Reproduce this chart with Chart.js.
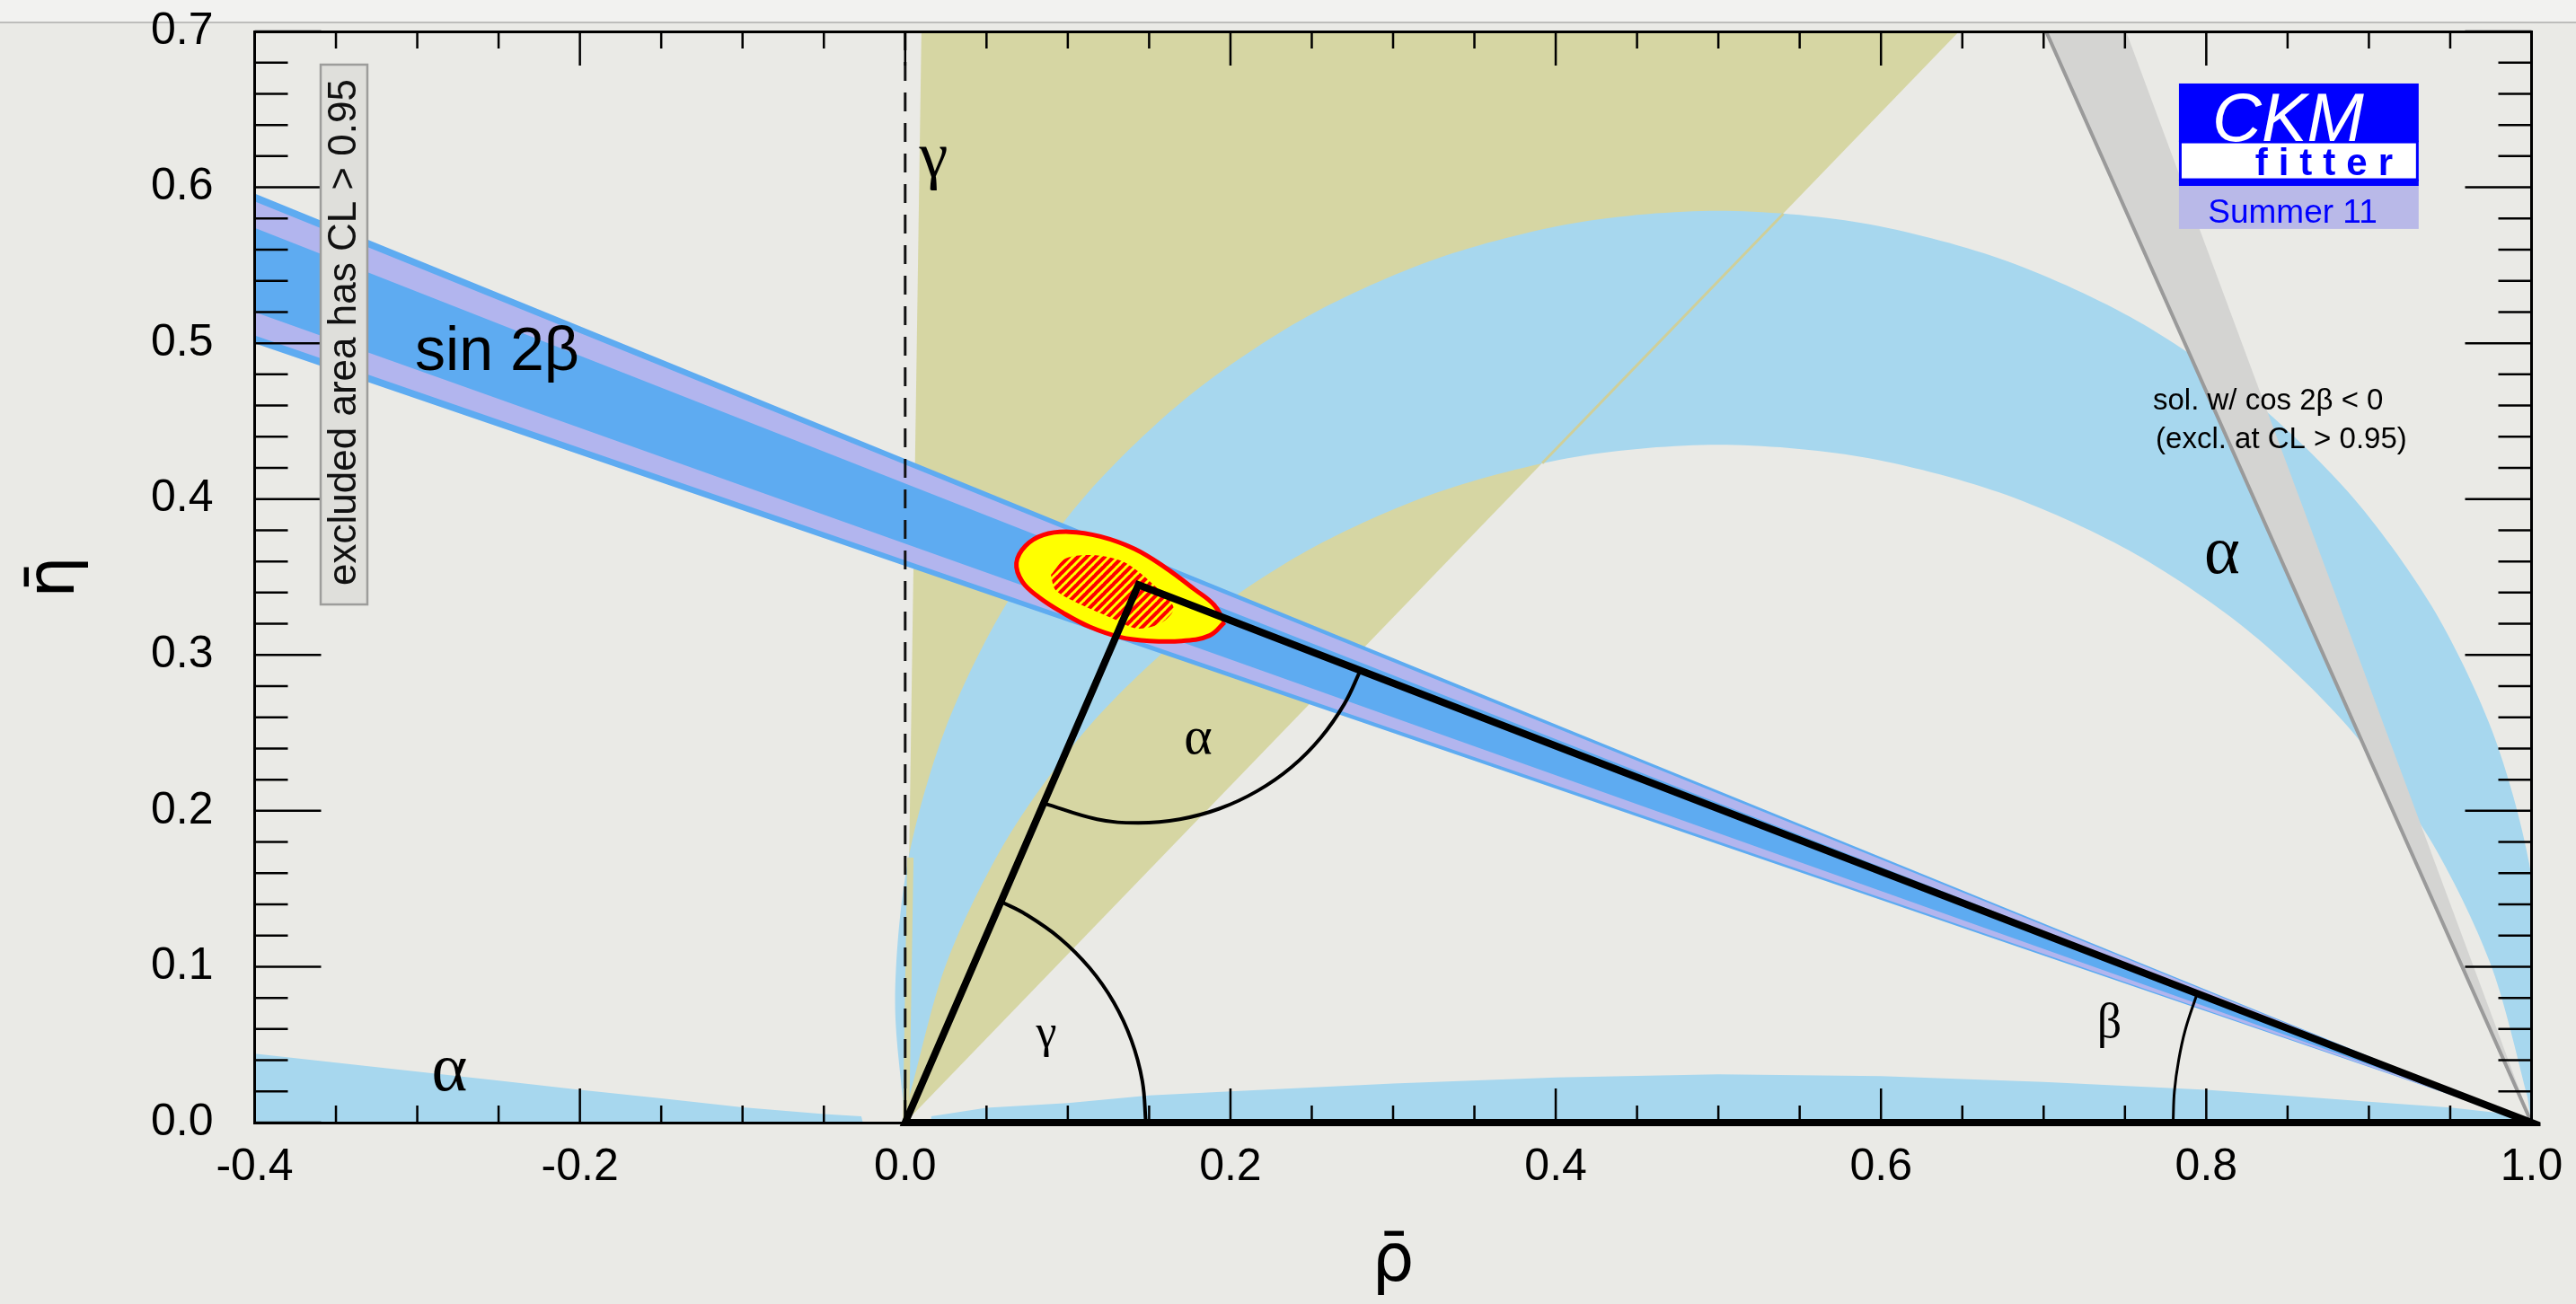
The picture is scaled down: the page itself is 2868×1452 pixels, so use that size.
<!DOCTYPE html>
<html>
<head>
<meta charset="utf-8">
<title>CKMfitter – unitarity triangle (ρ̄, η̄)</title>
<style>
  html, body { margin: 0; padding: 0; background: #eaeae6; overflow: hidden; }
  #topbar { position: absolute; left: 0; top: 0; width: 2868px; height: 24px;
            background: #f2f2f0; border-bottom: 2px solid #bdbdbb; }
  #c { position: absolute; left: 0; top: 0; }
</style>
<script src="https://cdn.jsdelivr.net/npm/chart.js@4.4.0/dist/chart.umd.min.js"></script>
</head>
<body>
<div id="topbar"></div>
<canvas id="c" width="2868" height="1452"></canvas>
<script>
// ---------------------------------------------------------------
// Constraints in the (ρ̄, η̄) plane, Summer 11 global fit.
// Every region is a list of [ρ̄, η̄] vertices.
// ---------------------------------------------------------------

// axis tick labels
const xMajorTicks = [-0.4, -0.2, 0.0, 0.2, 0.4, 0.6, 0.8, 1.0];
const yMajorTicks = [0.0, 0.1, 0.2, 0.3, 0.4, 0.5, 0.6, 0.7];

// γ: wedge from the origin
const gammaWedge = [[0.0, 0.0], [0.0100, 0.7], [0.648, 0.7]];
// sliver of the γ wedge seen next to ρ̄ = 0, and its edge through the α band
const gammaSliver = [[0.0005, 0.0], [0.0032, 0.17]];
const gammaEdge = [[0.3917, 0.4230], [0.5400, 0.5830]];

// α: main band, outer boundary (left to right) then inner boundary (right to left)
const alphaOuter = [
  [0.0000, 0.0000], [-0.0062, 0.0787], [0.0015, 0.1666], [0.0244, 0.2518],
  [0.0617, 0.3318], [0.1123, 0.4040], [0.1747, 0.4664], [0.2469, 0.5170],
  [0.3269, 0.5543], [0.4121, 0.5772], [0.5000, 0.5849], [0.5879, 0.5772],
  [0.6731, 0.5543], [0.7531, 0.5170], [0.8253, 0.4664], [0.8877, 0.4040],
  [0.9383, 0.3318], [0.9756, 0.2518], [0.9985, 0.1666], [1.0062, 0.0787],
  [1.0000, 0.0000]
];
const alphaInner = [
  [0.9972, 0.0176], [0.9745, 0.1026], [0.9372, 0.1823], [0.8868, 0.2544],
  [0.8245, 0.3166], [0.7524, 0.3671], [0.6727, 0.4043], [0.5877, 0.4271],
  [0.5000, 0.4348], [0.4123, 0.4271], [0.3273, 0.4043], [0.2476, 0.3671],
  [0.1755, 0.3166], [0.1132, 0.2544], [0.0628, 0.1823], [0.0255, 0.1026],
  [0.0028, 0.0176]
];
// α: the two low solutions along η̄ ≈ 0
const alphaLowLeft = [
  [-0.4, 0.0], [-0.4, 0.0442], [-0.35, 0.0385], [-0.30, 0.0327], [-0.25, 0.0270],
  [-0.20, 0.0211], [-0.15, 0.0155], [-0.10, 0.0098], [-0.05, 0.0055],
  [-0.027, 0.0040], [-0.026, 0.0]
];
const alphaLowRight = [
  [0.016, 0.0], [0.016, 0.0040], [0.05, 0.0095], [0.10, 0.0125], [0.15, 0.0175],
  [0.20, 0.0200], [0.30, 0.0250], [0.40, 0.0290], [0.50, 0.0310], [0.60, 0.0298],
  [0.70, 0.0260], [0.80, 0.0211], [0.85, 0.0173], [0.90, 0.0134], [0.95, 0.0096],
  [0.99, 0.0050], [1.0, 0.0]
];

// sin 2β: wedges from (1, 0); edge line, outer contour, inner contour
const sin2bEdge = [[1.0, 0.0], [-0.4, 0.596], [-0.4, 0.500]];
const sin2bOuter = [[1.0, 0.0], [-0.4, 0.591], [-0.4, 0.505]];
const sin2bInner = [[1.0, 0.0], [-0.4, 0.574], [-0.4, 0.520]];

// second sin 2β solution (cos 2β < 0)
const cos2bNegative = [[1.0, 0.0], [0.6802, 0.75], [0.7329, 0.75]];

// ρ̄ = 0 reference line
const rhoZero = [[0.0, 0.7], [0.0, 0.0]];

// global fit: outer (yellow) and inner (hatched) contours
const fitOuter = [
  [0.1964, 0.3210], [0.1900, 0.3320], [0.1780, 0.3420], [0.1600, 0.3560],
  [0.1411, 0.3680], [0.1200, 0.3760], [0.1006, 0.3790], [0.0850, 0.3770],
  [0.0740, 0.3700], [0.0684, 0.3590], [0.0720, 0.3470], [0.0822, 0.3370],
  [0.0970, 0.3270], [0.1135, 0.3180], [0.1320, 0.3115], [0.1503, 0.3090],
  [0.1700, 0.3090], [0.1872, 0.3125], [0.1964, 0.3210]
];
const fitInner = [
  [0.0896, 0.3514], [0.0988, 0.3620], [0.1172, 0.3640], [0.1356, 0.3591],
  [0.1540, 0.3438], [0.1651, 0.3303], [0.1577, 0.3207], [0.1430, 0.3169],
  [0.1264, 0.3240], [0.1043, 0.3342], [0.0923, 0.3418], [0.0896, 0.3514]
];

// unitarity triangle (apex at the best fit point)
const triangle = [[0.0, 0.0], [0.1434, 0.345], [1.0, 0.0], [0.0, 0.0], [0.1434, 0.345]];

// angle markers
const arcGamma = [
  [0.1480, 0.0], [0.1458, 0.0268], [0.1391, 0.0528], [0.1282, 0.0772],
  [0.1134, 0.0992], [0.0951, 0.1183], [0.0740, 0.1337], [0.0589, 0.1417]
];
const arcAlpha = [
  [0.0852, 0.2049], [0.1180, 0.1946], [0.1434, 0.1923], [0.1688, 0.1946],
  [0.1935, 0.2015], [0.2166, 0.2128], [0.2375, 0.2280], [0.2555, 0.2469],
  [0.2701, 0.2687], [0.2799, 0.2900]
];
const arcBeta = [[0.7944, 0.0828], [0.7871, 0.0595], [0.7830, 0.0399], [0.7804, 0.0200], [0.7796, 0.0]];

// ---------------------------------------------------------------
// styling
// ---------------------------------------------------------------
const OLIVE = '#d6d6a3';
const OLIVE_EDGE = '#cfcf99';
const SKY = '#a7d7ee';
const BLUE = '#5eabf1';
const LAVENDER = '#b2b5ee';
const GREY = '#d4d4d2';
const SANS = '"Liberation Sans", Arial, sans-serif';
const SERIF = '"Liberation Serif", "Times New Roman", serif';
const TITLE_FONT = '"DejaVu Sans", sans-serif';

Chart.defaults.font.family = SANS;
Chart.defaults.color = '#000';

function redHatch() {
  const t = document.createElement('canvas');
  t.width = t.height = 10;
  const g = t.getContext('2d');
  g.fillStyle = '#ffff00';
  g.fillRect(0, 0, 10, 10);
  g.strokeStyle = '#ff0000';
  g.lineWidth = 4.2;
  g.beginPath();
  for (const o of [-10, 0, 10]) { g.moveTo(o - 1, 11); g.lineTo(o + 11, -1); }
  g.stroke();
  return g.createPattern(t, 'repeat');
}

const toXY = pts => pts.map(([x, y]) => ({x, y}));

function area(pts, color, order, extra = {}) {
  return Object.assign({
    data: toXY(pts), showLine: true, fill: 'shape', backgroundColor: color,
    borderColor: 'rgba(0,0,0,0)', borderWidth: 0, pointRadius: 0, pointHoverRadius: 0,
    tension: 0, order, clip: 0
  }, extra);
}
function curve(pts, color, width, order, extra = {}) {
  return Object.assign({
    data: toXY(pts), showLine: true, fill: false, borderColor: color, borderWidth: width,
    pointRadius: 0, pointHoverRadius: 0, tension: 0, order
  }, extra);
}

const near = (v, list) => list.some(m => Math.abs(v - m) < 1e-6);
const tickText = (v, list) => near(v, list) ? (Math.abs(v) < 1e-9 ? 0 : Number(v)).toFixed(1) : '';

// inward tick marks on all four sides of the frame
const frameTicks = {
  id: 'frameTicks',
  afterDraw(chart) {
    const {ctx, chartArea: a, scales: {x, y}} = chart;
    ctx.save();
    ctx.strokeStyle = '#000';
    ctx.lineWidth = 2.5;
    ctx.beginPath();
    for (const t of x.ticks) {
      const px = x.getPixelForValue(t.value);
      const len = near(t.value, xMajorTicks) ? 38 : 19;
      ctx.moveTo(px, a.bottom); ctx.lineTo(px, a.bottom - len);
      ctx.moveTo(px, a.top); ctx.lineTo(px, a.top + len);
    }
    for (const t of y.ticks) {
      const py = y.getPixelForValue(t.value);
      const len = near(t.value, yMajorTicks) ? 74 : 37;
      ctx.moveTo(a.left, py); ctx.lineTo(a.left + len, py);
      ctx.moveTo(a.right, py); ctx.lineTo(a.right - len, py);
    }
    ctx.stroke();
    ctx.restore();
  }
};

// labels, the CL note and the CKMfitter logo, placed in (ρ̄, η̄) coordinates
const notes = [
  {t: 'sin 2β', x: -0.2509, y: 0.4935, font: '68px ' + SANS},
  {t: 'γ', x: 0.0175, y: 0.6176, font: '72px ' + SERIF},
  {t: 'α', x: 0.8097, y: 0.3641, font: '76px ' + SERIF},
  {t: 'α', x: -0.2802, y: 0.0322, font: '76px ' + SERIF},
  {t: 'α', x: 0.1801, y: 0.2460, font: '60px ' + SERIF},
  {t: 'γ', x: 0.0868, y: 0.0563, font: '52px ' + SERIF},
  {t: 'β', x: 0.7404, y: 0.0628, font: '54px ' + SERIF},
  {t: 'sol. w/ cos 2β < 0', x: 0.7672, y: 0.4626, font: '33px ' + SANS, align: 'left'},
  {t: '(excl. at CL > 0.95)', x: 0.7689, y: 0.4379, font: '33px ' + SANS, align: 'left'}
];

const annotations = {
  id: 'annotations',
  afterDraw(chart) {
    const {ctx, scales: {x, y}} = chart;
    const X = v => x.getPixelForValue(v);
    const Y = v => y.getPixelForValue(v);
    ctx.save();

    // CL note box
    const bx0 = X(-0.3594), bx1 = X(-0.3307), by0 = Y(0.6787), by1 = Y(0.3324);
    ctx.fillStyle = '#dfdfdb';
    ctx.fillRect(bx0, by0, bx1 - bx0, by1 - by0);
    ctx.strokeStyle = '#9d9d9b';
    ctx.lineWidth = 2.5;
    ctx.strokeRect(bx0, by0, bx1 - bx0, by1 - by0);
    ctx.save();
    ctx.translate(X(-0.3445), Y(0.507));
    ctx.rotate(-Math.PI / 2);
    ctx.fillStyle = '#111';
    ctx.font = '44px ' + SANS;
    ctx.textAlign = 'center';
    ctx.textBaseline = 'middle';
    ctx.fillText('excluded area has CL > 0.95', 0, 0);
    ctx.restore();

    // text labels
    ctx.fillStyle = '#000';
    ctx.textBaseline = 'middle';
    for (const n of notes) {
      ctx.font = n.font;
      ctx.textAlign = n.align || 'center';
      ctx.fillText(n.t, X(n.x), Y(n.y));
    }

    // CKMfitter logo
    const L = X(0.7832), R = X(0.9306), W = R - L;
    ctx.fillStyle = '#0000ff';
    ctx.fillRect(L, Y(0.6666), W, Y(0.6291) - Y(0.6666));
    ctx.fillStyle = '#ffffff';
    ctx.fillRect(L, Y(0.6291), W, Y(0.6049) - Y(0.6291));
    ctx.strokeStyle = '#0000ff';
    ctx.lineWidth = 3;
    ctx.strokeRect(L + 1.5, Y(0.6291), W - 3, Y(0.6049) - Y(0.6291));
    ctx.fillStyle = '#0000ff';
    ctx.fillRect(L, Y(0.6049), W, Y(0.6009) - Y(0.6049));
    ctx.fillStyle = '#b9b9e8';
    ctx.fillRect(L, Y(0.6009), W, Y(0.5733) - Y(0.6009));

    ctx.textBaseline = 'alphabetic';
    ctx.fillStyle = '#ffffff';
    ctx.font = 'italic 76px ' + SANS;
    ctx.textAlign = 'center';
    ctx.fillText('CKM', X(0.8503), Y(0.6297));
    ctx.fillStyle = '#0000ff';
    ctx.font = 'bold 42px ' + SANS;
    ctx.textAlign = 'left';
    ctx.letterSpacing = '12px';
    ctx.fillText('fitter', X(0.8300), Y(0.6078));
    ctx.letterSpacing = '0px';
    ctx.font = '37px ' + SANS;
    ctx.textAlign = 'center';
    ctx.fillText('Summer 11', X(0.8531), Y(0.5773));

    ctx.restore();
  }
};

const hidden = {
  ticks: {display: false},
  grid: {display: false, drawTicks: false},
  border: {display: true, color: '#000', width: 3, z: 1}
};

new Chart(document.getElementById('c'), {
  type: 'scatter',
  data: {
    datasets: [
      area(gammaWedge, OLIVE, 20),
      area(alphaOuter.concat(alphaInner), SKY, 19, {tension: 0.3}),
      curve(gammaSliver, OLIVE, 7, 18),
      curve(gammaEdge, OLIVE_EDGE, 3, 17),
      area(alphaLowLeft, SKY, 16),
      area(alphaLowRight, SKY, 16),
      area(sin2bEdge, BLUE, 15),
      area(sin2bOuter, LAVENDER, 14),
      area(sin2bInner, BLUE, 13),
      area(cos2bNegative, GREY, 12, {borderColor: '#9a9a9a', borderWidth: 4}),
      curve(rhoZero, '#111', 3, 11, {borderDash: [21, 13]}),
      area(fitOuter, '#ffff00', 10, {borderColor: '#ff0000', borderWidth: 5, tension: 0.4, clip: 6}),
      area(fitInner, redHatch(), 9, {tension: 0.3}),
      curve(triangle, '#000', 8, 8, {borderJoinStyle: 'miter', clip: 10}),
      curve(arcGamma, '#000', 4, 7, {tension: 0.4}),
      curve(arcAlpha, '#000', 4, 7, {tension: 0.4}),
      curve(arcBeta, '#000', 3, 7, {tension: 0.4})
    ]
  },
  options: {
    responsive: false,
    devicePixelRatio: 1,
    animation: false,
    events: [],
    layout: {padding: 0},
    plugins: {legend: {display: false}, tooltip: {enabled: false}},
    scales: {
      x: {
        type: 'linear', position: 'bottom', min: -0.4, max: 1.0,
        ticks: {
          stepSize: 0.05, maxTicksLimit: 200, autoSkip: false, maxRotation: 0, padding: 20,
          font: {family: SANS, size: 50}, color: '#000',
          callback: v => tickText(v, xMajorTicks)
        },
        grid: {display: false, drawTicks: false},
        border: {display: true, color: '#000', width: 3, z: 1},
        title: {display: true, text: 'ρ̄', color: '#000', font: {family: TITLE_FONT, size: 74}, padding: {top: 0, bottom: 1}},
        afterFit: s => { s.height = 202; s.paddingLeft = 0; s.paddingRight = 0; }
      },
      y: {
        type: 'linear', position: 'left', min: 0, max: 0.7,
        ticks: {
          stepSize: 0.02, maxTicksLimit: 200, autoSkip: false, padding: 46,
          font: {family: SANS, size: 50}, color: '#000',
          callback: v => tickText(v, yMajorTicks)
        },
        grid: {display: false, drawTicks: false},
        border: {display: true, color: '#000', width: 3, z: 1},
        title: {display: true, text: 'η̄', color: '#000', font: {family: TITLE_FONT, size: 74}, padding: {top: 18, bottom: 0}},
        afterFit: s => { s.width = 283.5; s.paddingTop = 0; s.paddingBottom = 0; }
      },
      xTop: Object.assign({type: 'linear', position: 'top', min: -0.4, max: 1.0,
        afterFit: s => { s.height = 35; s.paddingLeft = 0; s.paddingRight = 0; }}, hidden),
      yRight: Object.assign({type: 'linear', position: 'right', min: 0, max: 0.7,
        afterFit: s => { s.width = 49.5; s.paddingTop = 0; s.paddingBottom = 0; }}, hidden)
    }
  },
  plugins: [frameTicks, annotations]
});
</script>
</body>
</html>
